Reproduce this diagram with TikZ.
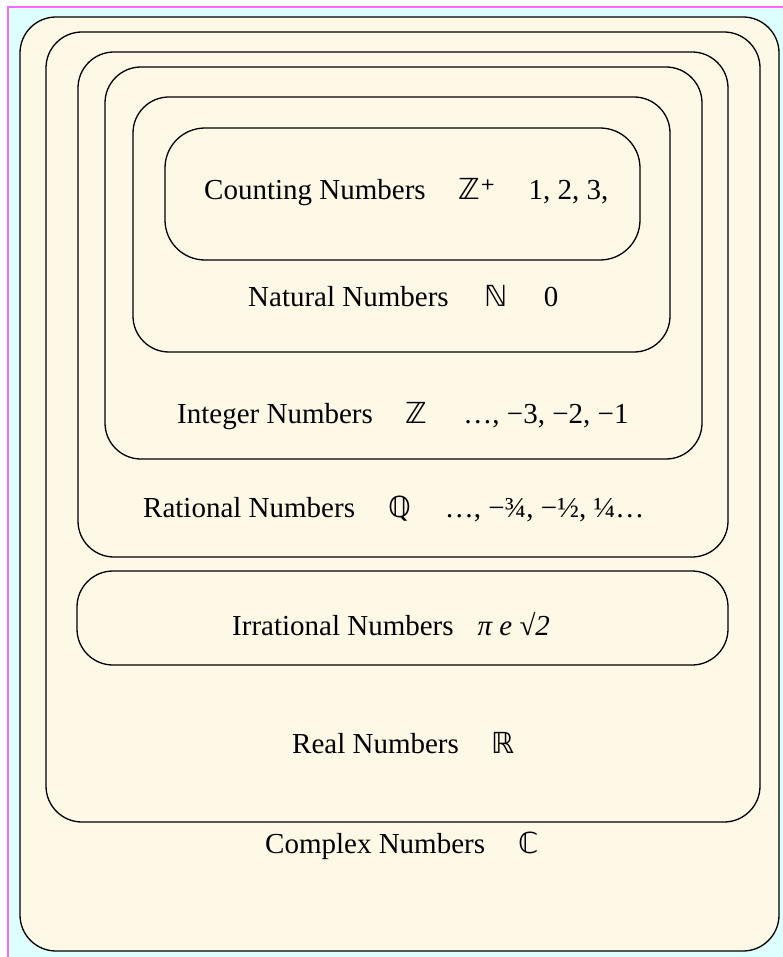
\documentclass[tikz,border=0pt]{standalone}
\usepackage{fontspec}
\setmainfont{Liberation Serif}
\newfontfamily\dsf{DejaVu Sans}
\definecolor{cream}{HTML}{FEF8E6}
\definecolor{bgcyan}{HTML}{DDFFFF}
\definecolor{edgepink}{HTML}{FF66FF}
\newcommand{\gp}{\hspace*{33pt}}
\begin{document}
\begin{tikzpicture}[x=1pt,y=-1pt,
  setbox/.style={draw=black,line width=1.3pt,fill=cream,rounded corners=36pt},
  lbl/.style={anchor=base west,inner sep=0pt,font=\fontsize{29}{34}\selectfont}]
\useasboundingbox (0,0) rectangle (783,957);
\fill[white] (0,0) rectangle (783,957);
\fill[bgcyan] (8,7) rectangle (783,957);
\draw[edgepink,line width=2pt] (8,957) -- (8,7) -- (783,7);
% nested sets
\draw[setbox] (20,17) rectangle (779,951);
\draw[setbox] (46,32) rectangle (760,822);
\draw[setbox] (78,52) rectangle (728,557);
\draw[setbox] (105,67) rectangle (702,459);
\draw[setbox] (133,97) rectangle (670,352);
\draw[setbox,rounded corners=40pt] (165,128) rectangle (640,260);
\draw[setbox] (77,571) rectangle (728,665);
% labels
\node[lbl] (counting) at (204,200) {Counting Numbers\gp{\dsf ℤ⁺}\gp 1, 2, 3,};
\node[lbl] (natural) at (248,306) {Natural Numbers\hspace*{36pt}{\dsf ℕ}\hspace*{36pt}0};
\node[lbl] (integer) at (177,423) {Integer Numbers\gp{\dsf ℤ}\hspace*{36pt}…, −3, −2, −1};
\node[lbl] (rational) at (143,517) {Rational Numbers\gp{\dsf ℚ}\hspace*{34pt}…, −¾, −½, ¼…};
\node[lbl] (irrational) at (232,635) {Irrational Numbers\hspace*{24pt}\textit{π e √2}};
\node[lbl] (real) at (292,753) {Real Numbers\gp{\dsf ℝ}};
\node[lbl] (complex) at (265,853) {Complex Numbers\gp{\dsf ℂ}};
\end{tikzpicture}
\end{document}
